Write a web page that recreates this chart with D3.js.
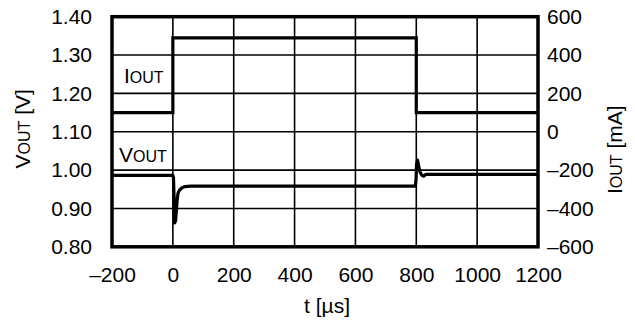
<!DOCTYPE html>
<html>
<head>
<meta charset="utf-8">
<script src="https://cdn.jsdelivr.net/npm/d3@7"></script>
<style>
  html, body { margin: 0; padding: 0; background: #fff; }
  svg { display: block; font-family: "Liberation Sans", Arial, sans-serif; }
</style>
</head>
<body>
<svg id="chart" width="635" height="331"></svg>
<script>
// ---- data ----
const xTicks = [-200, 0, 200, 400, 600, 800, 1000, 1200];
const vTicks = [0.80, 0.90, 1.00, 1.10, 1.20, 1.30, 1.40];
const iTicks = [-600, -400, -200, 0, 200, 400, 600];

const iTime = [-200, 0, 0, 800, 800, 1200];
const iVals = [100, 100, 490, 490, 100, 100];

const vTime = [-200, 0, 2, 4, 6, 9, 11, 14, 17, 22, 30, 40, 60, 797, 799, 801, 804, 808, 812, 818, 824, 832, 1200];
const vVals = [0.986, 0.986, 0.98, 0.93, 0.862, 0.868, 0.89, 0.92, 0.94, 0.948, 0.954, 0.957, 0.958, 0.958, 0.975, 1.015, 1.026, 1.01, 0.995, 0.987, 0.984, 0.989, 0.989];

// ---- layout ----
const svg = d3.select("#chart");
const L = 112, R = 538, T = 16.7, B = 246.8;

const x = d3.scaleLinear().domain([-200, 1200]).range([L, R]);
const yV = d3.scaleLinear().domain([0.80, 1.40]).range([B, T]);
const yI = d3.scaleLinear().domain([-600, 600]).range([B, T]);

const fmtMinus = s => s.replace("-", "\u2013");

// grid
const g = svg.append("g");
g.selectAll("line.vx").data(xTicks.slice(1, -1)).join("line")
  .attr("x1", d => x(d)).attr("x2", d => x(d))
  .attr("y1", T).attr("y2", B)
  .attr("stroke", "#000").attr("stroke-width", 1.6);
g.selectAll("line.hy").data(vTicks.slice(1, -1)).join("line")
  .attr("x1", L).attr("x2", R)
  .attr("y1", d => yV(d)).attr("y2", d => yV(d))
  .attr("stroke", "#000").attr("stroke-width", 1.6);

// data lines
const lineI = d3.line().x((d, i) => x(iTime[i])).y(d => yI(d));
svg.append("path").datum(iVals).attr("d", lineI)
  .attr("fill", "none").attr("stroke", "#000").attr("stroke-width", 3.2)
  .attr("stroke-linejoin", "miter");

const lineV = d3.line().x((d, i) => x(vTime[i])).y(d => yV(d));
svg.append("path").datum(vVals).attr("d", lineV)
  .attr("fill", "none").attr("stroke", "#000").attr("stroke-width", 3.2)
  .attr("stroke-linejoin", "round");

// frame
svg.append("rect").attr("x", L).attr("y", T).attr("width", R - L).attr("height", B - T)
  .attr("fill", "none").attr("stroke", "#000").attr("stroke-width", 3.5);

// axes (labels only)
const fs = 21, ss = 16;
const axB = svg.append("g").attr("transform", `translate(0,${B})`)
  .call(d3.axisBottom(x).tickValues(xTicks).tickSize(0).tickPadding(20)
    .tickFormat(d => fmtMinus(String(d))));
const axL = svg.append("g").attr("transform", `translate(${L},0)`)
  .call(d3.axisLeft(yV).tickValues(vTicks).tickSize(0).tickPadding(20)
    .tickFormat(d3.format(".2f")));
const axR = svg.append("g").attr("transform", `translate(${R},0)`)
  .call(d3.axisRight(yI).tickValues(iTicks).tickSize(0).tickPadding(9)
    .tickFormat(d => fmtMinus(String(d))));
[axB, axL, axR].forEach(a => {
  a.select(".domain").remove();
  a.selectAll("text").attr("font-size", fs).attr("fill", "#000")
    .attr("font-family", "'Liberation Sans', Arial, sans-serif");
});

// titles
function subLabel(sel, main, sub, size, subSize) {
  sel.append("tspan").attr("font-size", size).text(main);
  sel.append("tspan").attr("font-size", subSize).text(sub);
}
svg.append("text").attr("x", (L + R) / 2 + 2).attr("y", 313).attr("text-anchor", "middle")
  .attr("font-size", fs).text("t [\u00b5s]");

const tV = svg.append("text").attr("transform", `translate(30,${(T + B) / 2 - 3}) rotate(-90)`)
  .attr("text-anchor", "middle").attr("font-size", fs);
subLabel(tV, "V", "OUT", fs, ss);
tV.append("tspan").attr("font-size", fs).text(" [V]");

const tI = svg.append("text").attr("transform", `translate(622,${(T + B) / 2 + 18}) rotate(-90)`)
  .attr("text-anchor", "middle").attr("font-size", fs);
subLabel(tI, "I", "OUT", fs, ss);
tI.append("tspan").attr("font-size", fs).text(" [mA]");

// in-plot labels
const lI = svg.append("text").attr("x", 124).attr("y", 83);
subLabel(lI, "I", "OUT", fs, ss);
const lV = svg.append("text").attr("x", 119).attr("y", 162);
subLabel(lV, "V", "OUT", fs, ss);
</script>
</body>
</html>
